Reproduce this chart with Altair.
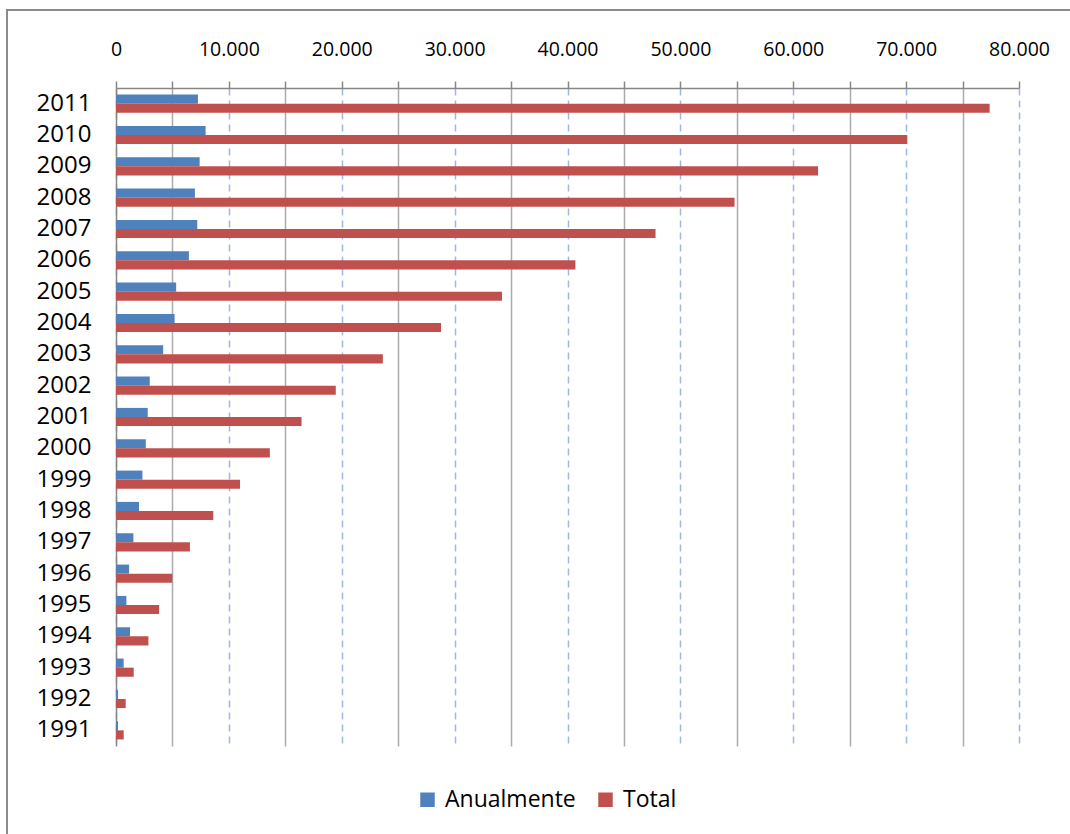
import altair as alt
import pandas as pd

years = [2011, 2010, 2009, 2008, 2007, 2006, 2005, 2004, 2003, 2002, 2001,
         2000, 1999, 1998, 1997, 1996, 1995, 1994, 1993, 1992, 1991]
anualmente = [7260, 7940, 7410, 6990, 7200, 6460, 5330, 5190, 4180, 2990, 2810,
              2640, 2340, 2040, 1540, 1160, 920, 1240, 680, 180, 180]
total = [77400, 70100, 62200, 54800, 47800, 40700, 34200, 28800, 23640, 19470, 16440,
         13630, 10990, 8620, 6550, 4980, 3820, 2870, 1570, 860, 680]
series = ["Anualmente", "Total"]
colors = ["#4F81BD", "#C0504D"]
x_ticks = list(range(0, 80001, 5000))

rows = []
for y, a, t in zip(years, anualmente, total):
    rows.append({"Ano": y, "Serie": "Anualmente", "Valor": a})
    rows.append({"Ano": y, "Serie": "Total", "Valor": t})
df = pd.DataFrame(rows)

FONT = "Open Sans"
AXIS_GRAY = "#868686"

is_major = "datum.value % 10000 == 0"

bars = alt.Chart(df).mark_bar().encode(
    y=alt.Y(
        "Ano:O",
        sort="descending",
        scale=alt.Scale(paddingInner=0.42, paddingOuter=0.21),
        axis=alt.Axis(title=None, ticks=False, labelFontSize=24, labelFont=FONT,
                      labelColor="black", labelPadding=25, domainColor=AXIS_GRAY,
                      domainWidth=1.5, grid=False),
    ),
    yOffset=alt.YOffset("Serie:N", sort=series, scale=alt.Scale(paddingInner=0, paddingOuter=0)),
    x=alt.X(
        "Valor:Q",
        scale=alt.Scale(domain=[0, 80000], nice=False, zero=True),
        axis=alt.Axis(
            orient="top", values=x_ticks, title=None,
            labelExpr="datum.value % 10000 == 0 ? (datum.value == 0 ? '0' : (datum.value / 1000) + '.000') : ''",
            labelOverlap=False, labelFlush=False, labelBound=False,
            tickSize=7, tickColor=AXIS_GRAY, tickWidth=1.5,
            domainColor=AXIS_GRAY, domainWidth=1.5,
            labelFontSize=19.5, labelFont=FONT, labelColor="black", labelPadding=22,
            gridColor={"condition": {"test": is_major, "value": "#9DB9E3"}, "value": "#ABABAB"},
            gridDash={"condition": {"test": is_major, "value": [7, 5]}, "value": []},
            gridWidth=1.5,
        ),
    ),
    color=alt.Color(
        "Serie:N",
        scale=alt.Scale(domain=series, range=colors),
        legend=alt.Legend(title=None, orient="none", legendX=300, legendY=700,
                          direction="horizontal", labelFontSize=23, labelFont=FONT,
                          labelColor="black", symbolType="square", symbolSize=210,
                          symbolStrokeWidth=0, labelOffset=6, columnPadding=18),
    ),
)

frame = alt.Chart(alt.Data(values=[{}])).mark_rect(
    fill=None, stroke="#8C8C8C", strokeWidth=2
).encode(
    x=alt.value(-109), x2=alt.value(970), y=alt.value(-78), y2=alt.value(760)
)

chart = alt.layer(frame, bars).properties(
    width=903, height=658,
    padding={"left": 116, "top": 88, "right": 51, "bottom": 88},
    autosize=alt.AutoSizeParams(type="none"),
    background="white",
).configure_view(stroke=None)

chart.save("out.html", embed_options={"renderer": "svg", "actions": False})
